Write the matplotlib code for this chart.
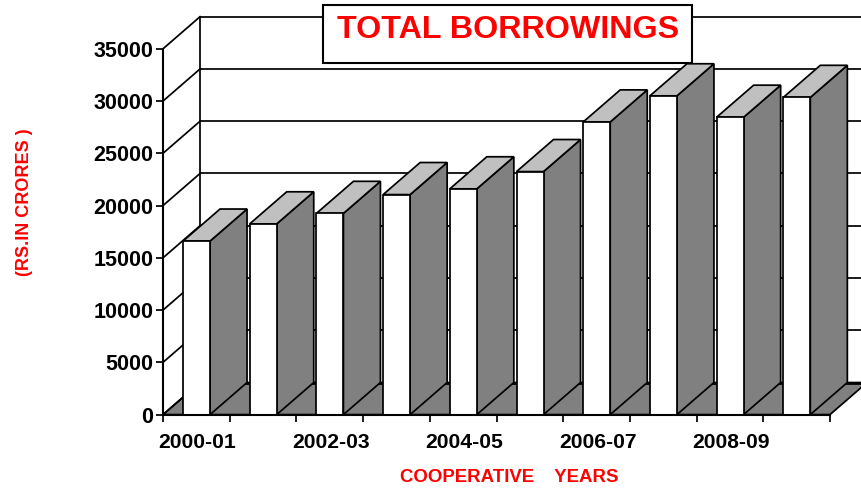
import matplotlib
matplotlib.use('Agg')
import matplotlib.pyplot as plt
from matplotlib.patches import Polygon, Rectangle

years = ['2000-01', '2001-02', '2002-03', '2003-04', '2004-05',
         '2005-06', '2006-07', '2007-08', '2008-09', '2009-10']
borrowings = [16600, 18250, 19250, 21050, 21600, 23250, 28000, 30500, 28450, 30350]
yticks = [0, 5000, 10000, 15000, 20000, 25000, 30000, 35000]

depth_x = 0.555
depth_y = 3070
bar_left = 0.3
bar_w = 0.405

plt.rcParams['font.family'] = ['Liberation Sans', 'DejaVu Sans']

W, H = 861, 488
fig = plt.figure(figsize=(W / 100, H / 100), dpi=100)
ax = fig.add_axes([163 / W, 1 - 414.6 / H, (830 - 163) / W, (414.6 - 48.8) / H])
ax.set_xlim(0, 10)
ax.set_ylim(0, 35000)
lw = 1.25

# floor and back wall
floor = [(0, 0), (depth_x, depth_y), (10 + depth_x, depth_y), (10, 0)]
ax.add_patch(Polygon(floor, facecolor='#808080', edgecolor='black', lw=lw, clip_on=False, zorder=1))
for v in yticks:
    ax.plot([0, depth_x], [v, v + depth_y], color='black', lw=lw, clip_on=False, zorder=2)
    ax.plot([depth_x, 10 + depth_x], [v + depth_y, v + depth_y], color='black',
            lw=lw * 1.6 if v == 0 else lw, clip_on=False, zorder=2)
ax.plot([depth_x, depth_x], [depth_y, 35000 + depth_y], color='black', lw=lw, clip_on=False, zorder=2)

# bars: front from ax.bar, then side and top faces
for i, v in enumerate(borrowings):
    x0 = i + bar_left
    x1 = x0 + bar_w
    ax.bar(x0 + bar_w / 2, v, width=bar_w, facecolor='white', edgecolor='black', lw=lw, zorder=4, clip_on=False)
    side = [(x1, 0), (x1 + depth_x, depth_y), (x1 + depth_x, v + depth_y), (x1, v)]
    top = [(x0, v), (x1, v), (x1 + depth_x, v + depth_y), (x0 + depth_x, v + depth_y)]
    ax.add_patch(Polygon(side, facecolor='#808080', edgecolor='black', lw=lw, clip_on=False, zorder=3))
    ax.add_patch(Polygon(top, facecolor='#c0c0c0', edgecolor='black', lw=lw, clip_on=False, zorder=3))

for s in ['top', 'right']:
    ax.spines[s].set_visible(False)
for s in ['left', 'bottom']:
    ax.spines[s].set_linewidth(lw * 1.2)
    ax.spines[s].set_zorder(5)
ax.patch.set_visible(False)

ax.set_yticks(yticks)
ax.set_yticklabels([str(v) for v in yticks], fontsize=15.5, fontweight='bold')
ax.set_xticks(range(11))
ax.set_xticklabels([])
ax.set_xticks([i + 0.515 for i in range(0, 10, 2)], minor=True)
ax.set_xticklabels(years[::2], minor=True, fontsize=15.2, fontweight='bold')
ax.tick_params(axis='both', which='major', length=5, width=lw)
ax.tick_params(axis='y', pad=2)
ax.tick_params(axis='x', which='minor', length=0, pad=13)

fig.add_artist(Rectangle((323 / W, 1 - 63 / H), 369 / W, 58 / H, transform=fig.transFigure,
                         facecolor='white', edgecolor='black', lw=lw * 1.2, zorder=9))
fig.text(508 / W, 1 - 30 / H, 'TOTAL BORROWINGS', color='red', fontsize=23.2, fontweight='bold',
         ha='center', va='center', zorder=10)
fig.text(509 / W, 1 - 477 / H, 'COOPERATIVE    YEARS', color='red', fontsize=13.4, fontweight='bold',
         ha='center', va='center')
fig.text(25 / W, 1 - 202 / H, '(RS.IN CRORES )', color='red', fontsize=13, fontweight='bold',
         rotation=90, ha='center', va='center')

fig.savefig('out.png', dpi=100)
